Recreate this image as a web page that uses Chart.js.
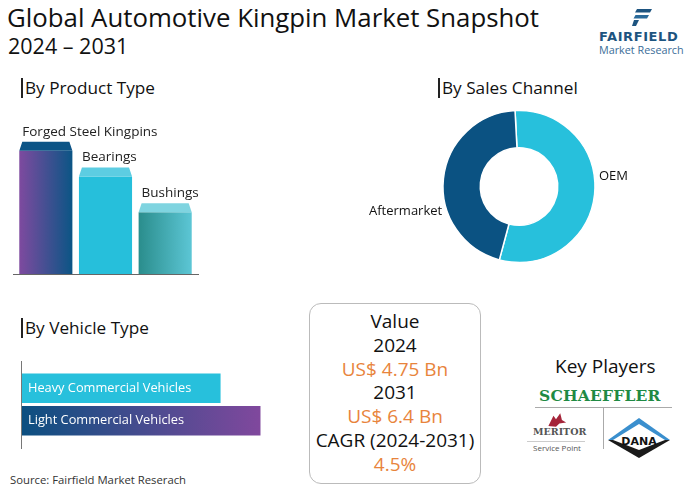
<!DOCTYPE html>
<html>
<head>
<meta charset="utf-8">
<script src="https://cdn.jsdelivr.net/npm/chart.js@4.4.1/dist/chart.umd.min.js"></script>
<style>
  body { margin: 0; background: #fff; font-family: "Open Sans", sans-serif; color: #111; }
  #page { position: relative; width: 700px; height: 491px; overflow: hidden; }
  .abs { position: absolute; white-space: nowrap; }
  .title { left: 7px; top: 2px; font-size: 25.8px; line-height: 30px; }
  .sub { left: 8px; top: 32px; font-size: 21.5px; line-height: 28px; }
  .sec { font-size: 17.2px; line-height: 20px; border-left: 2px solid #222; padding-left: 2px; }
  .lbl { font-size: 13px; }
  #vbox { left: 309px; top: 303px; width: 170px; height: 173px; border: 1px solid #bbb; border-radius: 12px;
          text-align: center; font-size: 19px; line-height: 23.8px; padding-top: 6px; box-sizing: content-box; }
  #vbox .o { color: #e8843c; }
  canvas { position: absolute; }
</style>
</head>
<body>
<div id="page">
  <div class="abs title">Global Automotive Kingpin Market Snapshot</div>
  <div class="abs sub">2024 – 2031</div>

  <!-- fairfield logo -->
  <svg class="abs" style="left:632px;top:9px" width="20" height="17" viewBox="0 0 20 17">
    <polygon points="5,0 20,0 18,3.5 3,3.5" fill="#1d5480"/>
    <polygon points="3.5,6 17,6 15,9.5 1.5,9.5" fill="#2a6a9a"/>
    <polygon points="2,11 7,11 4,17 0,17" fill="#1d5480"/>
  </svg>
  <div class="abs" style="left:599px;top:29px;font-size:13px;font-weight:bold;color:#1d5480;letter-spacing:0.6px;font-family:'DejaVu Sans'">FAIRFIELD</div>
  <div class="abs" style="left:599px;top:42px;font-size:10.8px;color:#3b6d98">Market Research</div>

  <div class="abs sec" style="left:21px;top:78px">By Product Type</div>
  <div class="abs sec" style="left:438px;top:78px">By Sales Channel</div>
  <div class="abs sec" style="left:21px;top:318px">By Vehicle Type</div>

  <canvas id="productChart" style="left:13px;top:110px" width="186" height="165"></canvas>
  <canvas id="salesChart" style="left:359px;top:99px" width="320" height="175"></canvas>
  <div class="abs lbl" style="left:599px;top:166px">OEM</div>
  <div class="abs lbl" style="left:369px;top:201px">Aftermarket</div>
  <canvas id="vehicleChart" style="left:20px;top:361px" width="260" height="88"></canvas>

  <div id="vbox" class="abs">
    <div>Value</div><div>2024</div><div class="o">US$ 4.75 Bn</div>
    <div>2031</div><div class="o">US$ 6.4 Bn</div><div>CAGR (2024-2031)</div><div class="o">4.5%</div>
  </div>

  <div class="abs" style="left:555px;top:353px;font-size:19px">Key Players</div>
  <div class="abs" style="left:539px;top:386px;font-size:15.5px;font-weight:bold;color:#1f8a44;font-family:'DejaVu Serif';letter-spacing:0.2px">SCHAEFFLER</div>
  <div class="abs" style="left:535px;top:407px;width:137px;border-top:1px solid #aaa"></div>
  <div class="abs" style="left:603px;top:408px;height:41px;border-left:1px solid #aaa"></div>
  <svg class="abs" style="left:545px;top:412px" width="22" height="16" viewBox="0 0 26 18">
    <path d="M4,16 L10,4 L13,8 L18,1 L20,9 L25,12 L17,13 L13,17 Z" fill="#a5253a"/>
  </svg>
  <div class="abs" style="left:533px;top:426px;font-size:9.5px;font-weight:bold;color:#555;font-family:'DejaVu Serif'">MERITOR</div>
  <div class="abs" style="left:527px;top:441px;width:58px;border-top:1px solid #ccc"></div>
  <div class="abs" style="left:533px;top:442px;font-size:8px;color:#555">Service Point</div>
  <svg class="abs" style="left:608px;top:418px" width="62" height="40" viewBox="0 0 62 40">
    <polygon points="31,0 62,22 0,22" fill="#3a8fce"/>
    <polygon points="0,22 62,22 31,40" fill="#1a1a1a"/>
    <polygon points="31,6 57,22 31,32 5,22" fill="#fff"/>
    <text x="31" y="26.5" text-anchor="middle" font-family="DejaVu Sans" font-weight="bold" font-size="11" fill="#111">DANA</text>
  </svg>

  <div class="abs" style="left:10px;top:472px;font-size:11.3px;color:#333">Source: Fairfield Market Reserach</div>
</div>

<script>
// product type (relative share)
const productTypes = ['Forged Steel Kingpins', 'Bearings', 'Bushings'];
const productShare = [100, 79, 50];

// sales channel (%)
const salesChannels = ['OEM', 'Aftermarket'];
const salesShare = [55, 45];

// vehicle type (relative share)
const vehicleTypes = ['Heavy Commercial Vehicles', 'Light Commercial Vehicles'];
const vehicleShare = [45, 54];

const BAR_PCT = 0.89;

function productFill(ctx) {
  const chart = ctx.chart;
  const xs = chart.scales.x;
  const i = ctx.dataIndex;
  if (!xs || !chart.chartArea) return '#26bfdb';
  if (i === 1) return '#26bfdb';
  const cx = xs.getPixelForValue(i);
  const half = xs.width / productTypes.length * BAR_PCT / 2;
  const g = chart.ctx.createLinearGradient(cx - half, 0, cx + half, 0);
  if (i === 0) { g.addColorStop(0, '#7e4a9f'); g.addColorStop(1, '#0b5585'); }
  else { g.addColorStop(0, '#2a8d8c'); g.addColorStop(1, '#5cc6d5'); }
  return g;
}

const capColors = ['#0c5486', '#5dcde2', '#7fd4e0'];

// draws the bevelled cap, the category label and the baseline
const productDecor = {
  id: 'productDecor',
  afterDatasetsDraw(chart) {
    const c = chart.ctx;
    const area = chart.chartArea;
    c.save();
    c.strokeStyle = '#666';
    c.lineWidth = 1;
    c.beginPath();
    c.moveTo(0, area.bottom + 0.5);
    c.lineTo(chart.width, area.bottom + 0.5);
    c.stroke();
    chart.getDatasetMeta(0).data.forEach((bar, i) => {
      const l = bar.x - bar.width / 2, r = bar.x + bar.width / 2;
      c.fillStyle = capColors[i];
      c.beginPath();
      c.moveTo(l, bar.y);
      c.lineTo(l + 3, bar.y - 9);
      c.lineTo(r - 3, bar.y - 9);
      c.lineTo(r, bar.y);
      c.closePath();
      c.fill();
      c.fillStyle = '#222';
      c.font = '13.5px "Open Sans"';
      c.textBaseline = 'middle';
      c.fillText(productTypes[i], l + 3, bar.y - 19);
    });
    c.restore();
  }
};

new Chart(document.getElementById('productChart'), {
  type: 'bar',
  data: {
    labels: productTypes,
    datasets: [{
      data: productShare,
      backgroundColor: productFill,
      borderWidth: 0,
      categoryPercentage: 1,
      barPercentage: BAR_PCT
    }]
  },
  options: {
    responsive: false,
    animation: false,
    layout: { padding: { left: 3, right: 4, top: 0, bottom: 1 } },
    plugins: { legend: { display: false }, tooltip: { enabled: false } },
    scales: {
      x: { display: false },
      y: { display: false, min: 0, max: 133 }
    }
  },
  plugins: [productDecor]
});

new Chart(document.getElementById('salesChart'), {
  type: 'doughnut',
  data: {
    labels: salesChannels,
    datasets: [{
      data: salesShare,
      backgroundColor: ['#27c0dc', '#0b5282'],
      borderColor: '#fff',
      borderWidth: 1.5
    }]
  },
  options: {
    responsive: false,
    animation: false,
    radius: 76,
    cutout: '51%',
    rotation: -3,
    plugins: { legend: { display: false }, tooltip: { enabled: false } }
  }
});

function vehicleFill(ctx) {
  const chart = ctx.chart;
  if (ctx.dataIndex === 0) return '#27c0dc';
  const xs = chart.scales.x;
  if (!xs || !chart.chartArea) return '#0b4f7f';
  const g = chart.ctx.createLinearGradient(xs.getPixelForValue(0), 0, xs.getPixelForValue(vehicleShare[1]), 0);
  g.addColorStop(0, '#0b4f80');
  g.addColorStop(1, '#80489d');
  return g;
}

const vehicleDecor = {
  id: 'vehicleDecor',
  afterDatasetsDraw(chart) {
    const c = chart.ctx;
    const x0 = chart.scales.x.getPixelForValue(0);
    c.save();
    c.strokeStyle = '#777';
    c.lineWidth = 1;
    c.beginPath();
    c.moveTo(x0 + 0.5, 0);
    c.lineTo(x0 + 0.5, chart.height);
    c.stroke();
    c.fillStyle = '#fff';
    c.font = '12.8px "Open Sans"';
    c.textBaseline = 'middle';
    chart.getDatasetMeta(0).data.forEach((bar, i) => {
      c.fillText(vehicleTypes[i], x0 + 7, bar.y);
    });
    c.restore();
  }
};

new Chart(document.getElementById('vehicleChart'), {
  type: 'bar',
  data: {
    labels: vehicleTypes,
    datasets: [{
      data: vehicleShare,
      backgroundColor: vehicleFill,
      borderWidth: 0,
      categoryPercentage: 1,
      barPercentage: 0.91
    }]
  },
  options: {
    indexAxis: 'y',
    responsive: false,
    animation: false,
    layout: { padding: { left: 1, right: 0, top: 11, bottom: 12 } },
    plugins: { legend: { display: false }, tooltip: { enabled: false } },
    scales: {
      x: { display: false, min: 0, max: 58.4 },
      y: { display: false }
    }
  },
  plugins: [vehicleDecor]
});
</script>
</body>
</html>
